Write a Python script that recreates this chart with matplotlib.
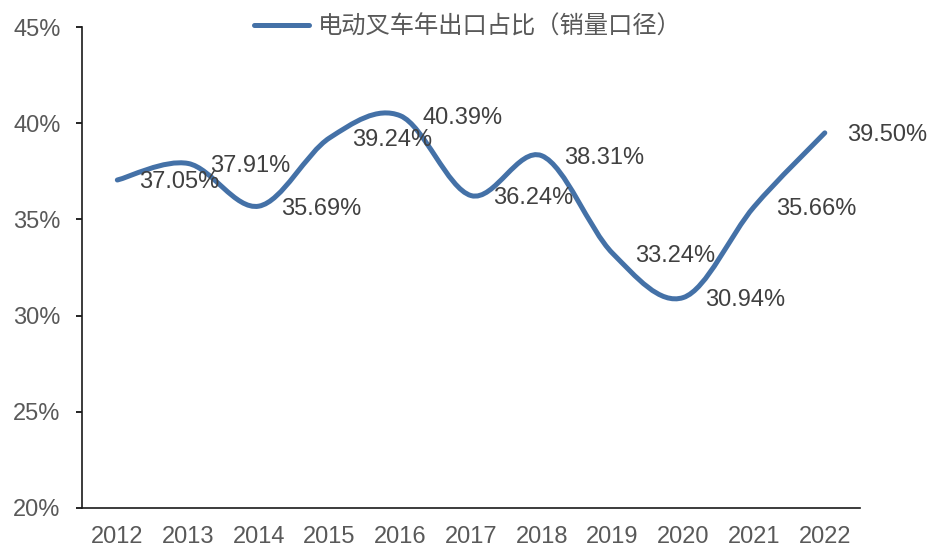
import matplotlib.pyplot as plt
from matplotlib.path import Path
from matplotlib.patches import PathPatch
from matplotlib.lines import Line2D

# data
years = ['2012', '2013', '2014', '2015', '2016', '2017', '2018', '2019', '2020', '2021', '2022']
export_share = [37.05, 37.91, 35.69, 39.24, 40.39, 36.24, 38.31, 33.24, 30.94, 35.66, 39.50]
series_name = '电动叉车年出口占比（销量口径）'

line_color = '#4471A7'
text_color = '#404040'

plt.rcParams['font.family'] = ['Liberation Sans', 'Noto Sans CJK SC', 'DejaVu Sans']

fig = plt.figure(figsize=(9.41, 5.49), dpi=100)
ax = fig.add_axes([0.0871, 0.0747, 0.827, 0.876])

# Excel-style smoothed line: cubic bezier segments between the points
x = list(range(len(years)))
y = export_share
n = len(x)
verts = [(x[0], y[0])]
codes = [Path.MOVETO]
for i in range(n - 1):
    x0, y0 = (x[i - 1], y[i - 1]) if i > 0 else (x[i], y[i])
    x3, y3 = (x[i + 2], y[i + 2]) if i + 2 < n else (x[i + 1], y[i + 1])
    c1 = (x[i] + (x[i + 1] - x0) / 6, y[i] + (y[i + 1] - y0) / 6)
    c2 = (x[i + 1] - (x3 - x[i]) / 6, y[i + 1] - (y3 - y[i]) / 6)
    verts += [c1, c2, (x[i + 1], y[i + 1])]
    codes += [Path.CURVE4] * 3
ax.add_patch(PathPatch(Path(verts, codes), facecolor='none', edgecolor=line_color,
                       lw=3.6, capstyle='round', joinstyle='round'))

# data labels to the right of each point
for xi, yi in zip(x, y):
    ax.annotate(f'{yi:.2f}%', (xi, yi), xytext=(16, -1.8), textcoords='offset points',
                ha='left', va='center', fontsize=17, color=text_color)

ax.set_xlim(-0.5, n - 0.5)
ax.set_ylim(20, 45)
ax.set_yticks([20, 25, 30, 35, 40, 45])
ax.set_yticklabels([f'{v}%' for v in [20, 25, 30, 35, 40, 45]])
ax.set_xticks(x)
ax.set_xticklabels(years)

for s in ['top', 'right']:
    ax.spines[s].set_visible(False)
for s in ['left', 'bottom']:
    ax.spines[s].set_linewidth(1.2)
    ax.spines[s].set_color('#1a1a1a')

ax.tick_params(axis='y', direction='out', length=4.5, width=1.2, pad=11,
               labelsize=17, labelcolor='#595959')
ax.tick_params(axis='x', length=0, pad=13, labelsize=17, labelcolor='#595959')

handle = Line2D([], [], color=line_color, lw=3.6, solid_capstyle='round')
fig.legend([handle], [series_name], loc='upper center', bbox_to_anchor=(0.497, 1.015),
           frameon=False, handlelength=2.3, handletextpad=0.35,
           prop={'family': ['Noto Sans CJK SC', 'DejaVu Sans'], 'size': 17.5},
           labelcolor='#595959')

fig.savefig('out.png', dpi=100)
